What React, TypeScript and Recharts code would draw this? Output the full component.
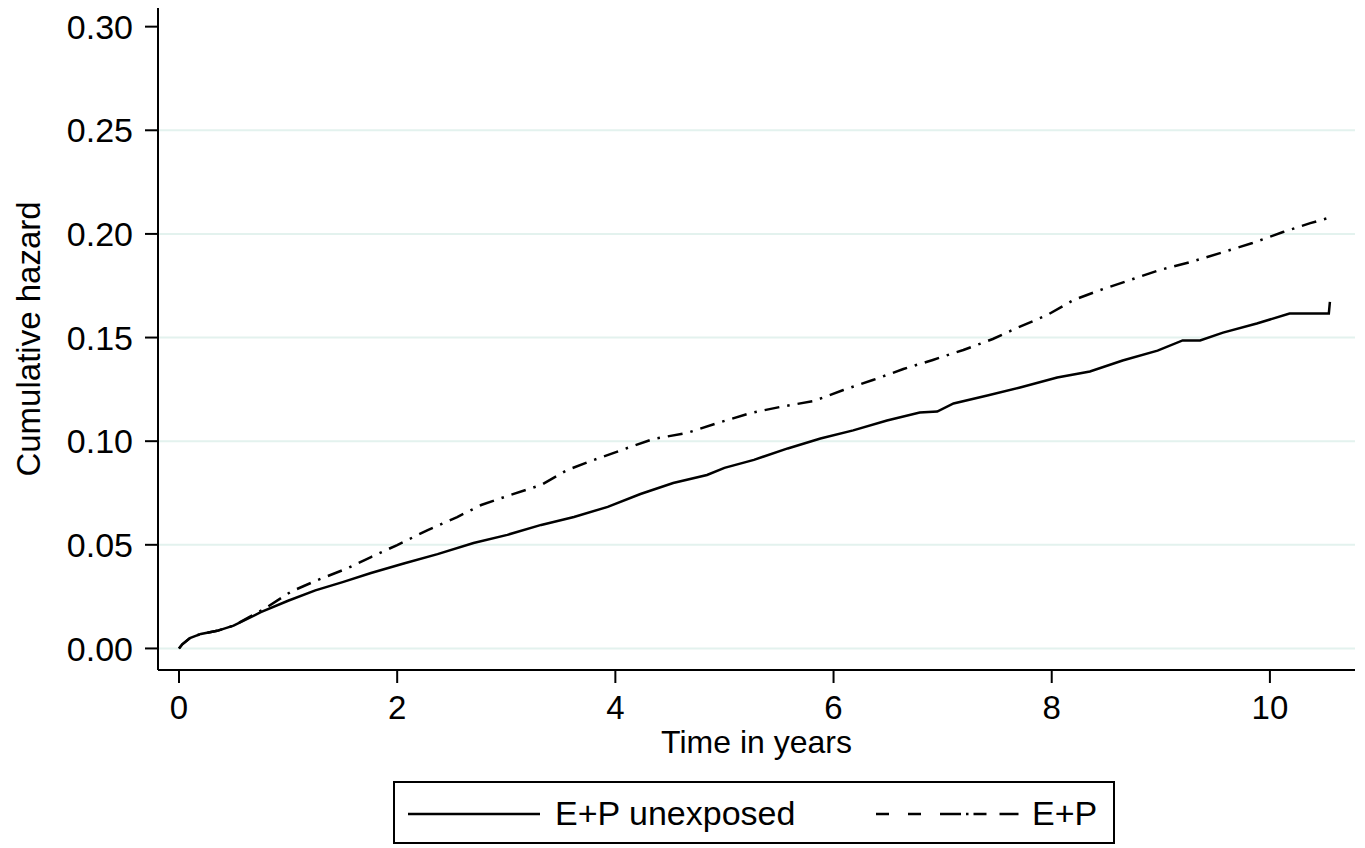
import React from 'react';
import { LineChart, Line, XAxis, YAxis, ReferenceLine } from 'recharts';

// Nelson–Aalen cumulative hazard, E+P unexposed
const unexposedTimes = [
  0, 0.03, 0.1, 0.2, 0.35, 0.5, 0.75, 1.0, 1.25, 1.5, 1.76, 2.06, 2.37, 2.7, 3.01, 3.32, 3.62, 3.93,
  4.23, 4.53, 4.84, 5.0, 5.27, 5.58, 5.88, 6.18, 6.49, 6.79, 6.95, 7.1, 7.41, 7.71, 8.05, 8.35, 8.65,
  8.97, 9.2, 9.36, 9.57, 9.88, 10.18, 10.43, 10.54, 10.55,
];
const unexposedHazard = [
  0, 0.002, 0.005, 0.007, 0.0085, 0.011, 0.0175, 0.023, 0.028, 0.032, 0.0364, 0.041, 0.0455, 0.0509,
  0.0548, 0.0596, 0.0634, 0.0683, 0.0745, 0.0798, 0.0837, 0.0871, 0.091, 0.0965, 0.1013, 0.1052, 0.11,
  0.1138, 0.1143, 0.1182, 0.122, 0.1259, 0.1307, 0.1336, 0.1389, 0.1437, 0.1486, 0.1486, 0.1524, 0.1568,
  0.1616, 0.1616, 0.1616, 0.1672,
];

// Nelson–Aalen cumulative hazard, E+P
const exposedTimes = [
  0, 0.03, 0.1, 0.2, 0.35, 0.5, 0.78, 1.03, 1.27, 1.55, 1.76, 2.0, 2.28, 2.55, 2.77, 3.04, 3.32, 3.56,
  3.8, 4.11, 4.35, 4.66, 4.94, 5.24, 5.51, 5.82, 6.09, 6.36, 6.64, 6.91, 7.19, 7.46, 7.68, 7.96, 8.2,
  8.47, 8.72, 8.99, 9.27, 9.57, 9.84, 10.12, 10.37, 10.53,
];
const exposedHazard = [
  0, 0.002, 0.005, 0.007, 0.0085, 0.011, 0.019, 0.0275, 0.033, 0.0388, 0.0441, 0.0499, 0.0571, 0.0634,
  0.0692, 0.0741, 0.0789, 0.0861, 0.0909, 0.0967, 0.1011, 0.104, 0.1088, 0.1136, 0.1165, 0.1194, 0.1247,
  0.1295, 0.1348, 0.1392, 0.144, 0.1493, 0.1546, 0.1609, 0.1681, 0.1734, 0.1778, 0.1826, 0.1864, 0.1912,
  0.1956, 0.2009, 0.2052, 0.2076,
];

const xTicks = [0, 2, 4, 6, 8, 10];
const yTicks = [0, 0.05, 0.1, 0.15, 0.2, 0.25, 0.3];
const gridLevels = [0, 0.05, 0.1, 0.15, 0.2, 0.25];
const seriesNames = ['E+P unexposed', 'E+P'];

const toPoints = (times: number[], values: number[]) =>
  times.map((t, i) => ({ time: t, hazard: values[i] }));

const unexposedData = toPoints(unexposedTimes, unexposedHazard);
const exposedData = toPoints(exposedTimes, exposedHazard);

const INK = '#000';
const GRID = '#e3f2ee';
const DASH_DOT = '15 8 2.5 8';
const LEGEND_DASH = '13 19 13 19 21 5 2.5 5 13';
const FONT = '"Liberation Sans", Arial, Helvetica, sans-serif';

const renderYTitle = (props: any) => {
  const vb = props && props.viewBox ? props.viewBox : { x: 0, y: 8, width: 158, height: 662 };
  const cx = 28;
  const cy = vb.y + vb.height / 2;
  return (
    <text
      x={cx}
      y={cy}
      transform={`rotate(-90 ${cx} ${cy})`}
      textAnchor="middle"
      dominantBaseline="central"
      fontSize={33}
      fill={INK}
    >
      Cumulative hazard
    </text>
  );
};

function LegendBox() {
  return (
    <svg
      width={722}
      height={63}
      style={{ position: 'absolute', left: 393, top: 781, overflow: 'visible' }}
    >
      <rect x={1} y={1} width={720} height={61} fill="#fff" stroke={INK} strokeWidth={2} />
      <line x1={15} y1={33} x2={147} y2={33} stroke={INK} strokeWidth={2.5} />
      <text x={162} y={44} fontSize={34} fill={INK}>
        {seriesNames[0]}
      </text>
      <line x1={483} y1={33} x2={627} y2={33} stroke={INK} strokeWidth={2.5} strokeDasharray={LEGEND_DASH} />
      <text x={639} y={44} fontSize={34} fill={INK}>
        {seriesNames[1]}
      </text>
    </svg>
  );
}

export default function App() {
  return (
    <div
      style={{
        position: 'absolute',
        left: 0,
        top: 0,
        width: 1365,
        height: 848,
        background: '#fff',
        fontFamily: FONT,
      }}
    >
      <LineChart width={1365} height={848} margin={{ top: 8, right: 10, left: 0, bottom: 88 }}>
        {gridLevels.map((v) => (
          <ReferenceLine key={v} y={v} stroke={GRID} strokeWidth={2} ifOverflow="extendDomain" />
        ))}
        <XAxis
          type="number"
          dataKey="time"
          domain={[-0.1925, 10.78]}
          ticks={xTicks}
          allowDataOverflow
          height={90}
          axisLine={{ stroke: INK, strokeWidth: 2 }}
          tickLine={{ stroke: INK, strokeWidth: 2 }}
          tickSize={13}
          tickMargin={13}
          tick={{ fontSize: 33, fill: INK }}
          label={{ value: 'Time in years', position: 'insideBottom', offset: 7, fontSize: 32, fill: INK }}
        />
        <YAxis
          type="number"
          dataKey="hazard"
          domain={[-0.0104, 0.309]}
          ticks={yTicks}
          allowDataOverflow
          width={158}
          axisLine={{ stroke: INK, strokeWidth: 2 }}
          tickLine={{ stroke: INK, strokeWidth: 2 }}
          tickSize={13}
          tickMargin={12}
          tick={{ fontSize: 34, fill: INK }}
          tickFormatter={(v: number) => v.toFixed(2)}
          label={renderYTitle}
        />
        <Line
          data={unexposedData}
          dataKey="hazard"
          name={seriesNames[0]}
          type="linear"
          stroke={INK}
          strokeWidth={2.5}
          dot={false}
          activeDot={false}
          isAnimationActive={false}
        />
        <Line
          data={exposedData}
          dataKey="hazard"
          name={seriesNames[1]}
          type="linear"
          stroke={INK}
          strokeWidth={2.5}
          strokeDasharray={DASH_DOT}
          dot={false}
          activeDot={false}
          isAnimationActive={false}
        />
      </LineChart>
      <LegendBox />
    </div>
  );
}
